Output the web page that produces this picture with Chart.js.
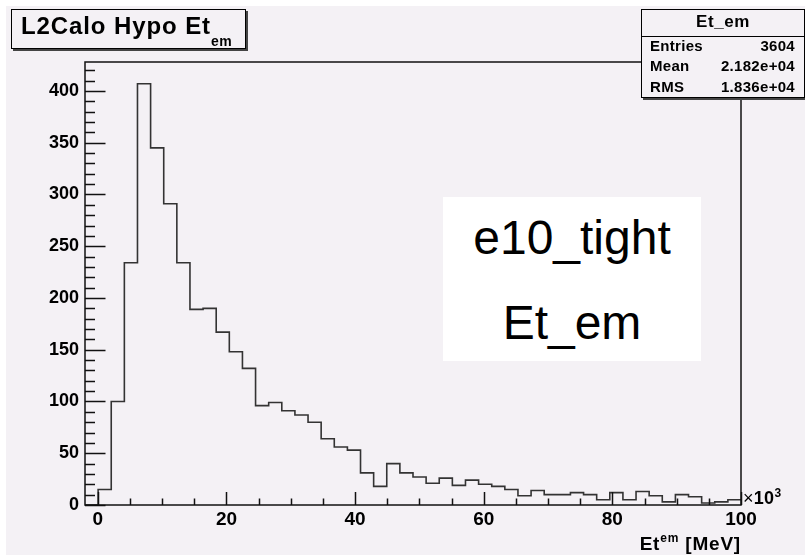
<!DOCTYPE html>
<html>
<head>
<meta charset="utf-8">
<title>L2Calo Hypo Et_em</title>
<script src="https://cdn.jsdelivr.net/npm/chart.js@4.4.1/dist/chart.umd.min.js"></script>
<style>
    body { margin: 0; width: 805px; height: 558px; overflow: hidden; background: #fff; position: relative; font-family: "Liberation Sans", Arial, sans-serif; }
    #pad { position: absolute; left: 6px; top: 6px; width: 799px; height: 549px; background: #f4f1f5; }
    #plot { position: absolute; left: 0; top: 0; }
    .abs { position: absolute; white-space: nowrap; color: #000; }
    #title { left: 11px; top: 9px; width: 233px; height: 38px; border: 1px solid #000; box-shadow: 2px 2px 0 #444; background: #f4f1f5; }
    #title span.main { position: absolute; left: 9px; top: 4px; font-size: 24px; line-height: 24px; font-weight: bold; letter-spacing: 0.9px; }
    #title span.sub { font-size: 14px; vertical-align: -11.7px; letter-spacing: 0.6px; }
    #stats { left: 641px; top: 9px; width: 162px; height: 87px; border: 1px solid #000; box-shadow: 2px 2px 0 #444; background: #f4f1f5; }
    #stats .head { position: absolute; left: 0; width: 162px; top: 2.6px; text-align: center; font-size: 17px; line-height: 17px; font-weight: bold; letter-spacing: 0.6px; }
    #stats .sep { position: absolute; left: 0; width: 162px; top: 26px; height: 1px; background: #000; }
    #stats .row { position: absolute; left: 8px; width: 145px; font-size: 15px; line-height: 15px; font-weight: bold; letter-spacing: 0.3px; }
    #stats .row .v { position: absolute; right: 0; }
    #note { left: 443px; top: 197px; width: 258px; height: 164px; background: #fff; }
    #note div { position: absolute; left: 0; width: 258px; text-align: center; font-size: 48px; line-height: 48px; }
    #expo { left: 743px; top: 489px; font-size: 18px; line-height: 18px; font-weight: bold; letter-spacing: 0.3px; }
    #expo .times { font-weight: normal; }
    #expo sup { font-size: 12px; vertical-align: 7px; line-height: 0; }
    #xtitle { right: 64px; top: 534px; font-size: 19px; line-height: 19px; font-weight: bold; letter-spacing: 0.8px; }
    #xtitle sup { font-size: 12px; vertical-align: 7.6px; line-height: 0; }
</style>
</head>
<body>
<div id="pad"></div>
<canvas id="plot" width="805" height="558"></canvas>

<div id="title" class="abs"><span class="main">L2Calo Hypo Et<span class="sub">em</span></span></div>
<div id="stats" class="abs"></div>
<div id="note" class="abs">
    <div style="top: 17.4px;">e10_tight</div>
    <div style="top: 102.4px;">Et_em</div>
</div>
<div id="expo" class="abs"><span class="times">&times;</span>10<sup>3</sup></div>
<div id="xtitle" class="abs">Et<sup>em</sup> [MeV]</div>

<script>
// Et_em histogram, 50 bins of 2.04 (x10^3 MeV) starting at -2
const binLow = -2;
const binWidth = 2.04;
const binCounts = [
    0, 15, 100, 234, 407, 345, 291, 234, 189, 190,
    167, 148, 132, 96, 99, 91, 87, 80, 64, 56,
    53, 31, 18, 40, 31, 27, 21, 26, 19, 24,
    20, 18, 15, 9, 14, 10, 10, 12, 10, 5,
    12, 5, 13, 9, 3, 10, 8, 2, 3, 5
];

const xTickValues = [0, 20, 40, 60, 80, 100];
const yTickValues = [0, 50, 100, 150, 200, 250, 300, 350, 400];
const xMinorStep = 5;
const yMinorStep = 10;
const xRange = [-2, 100];
const yRange = [0, 428];

const statsTitle = 'Et_em';
const statsLabels = ['Entries', 'Mean', 'RMS'];
const statsValues = ['3604', '2.182e+04', '1.836e+04'];

const FONT = '"Liberation Sans", Arial, sans-serif';

// stats box text
const statsBox = document.getElementById('stats');
statsBox.innerHTML = '<div class="head">' + statsTitle + '</div><div class="sep"></div>';
statsLabels.forEach(function(label, i) {
    const row = document.createElement('div');
    row.className = 'row';
    row.style.top = (27.6 + i * 20.7) + 'px';
    row.innerHTML = label + '<span class="v">' + statsValues[i] + '</span>';
    statsBox.appendChild(row);
});

// histogram outline: one point per bin low edge, plus the last upper edge
const histPoints = binCounts.map((c, i) => ({ x: binLow + i * binWidth, y: c }));
histPoints.push({ x: binLow + binCounts.length * binWidth, y: binCounts[binCounts.length - 1] });

// ROOT style frame with ticks pointing into the plot
const rootFrame = {
    id: 'rootFrame',
    afterDatasetsDraw(chart) {
        const { ctx, chartArea: a, scales: { x, y } } = chart;
        ctx.save();
        ctx.strokeStyle = '#111';
        ctx.lineWidth = 1.5;

        ctx.beginPath();
        for (let v = 0; v <= xRange[1] + 1e-9; v += xMinorStep) {
            const px = Math.round(x.getPixelForValue(v)) + 0.5;
            const len = (v % 20 === 0) ? 13 : 6.5;
            ctx.moveTo(px, a.bottom);
            ctx.lineTo(px, a.bottom - len);
        }
        for (let v = 0; v <= yRange[1]; v += yMinorStep) {
            const py = Math.round(y.getPixelForValue(v)) + 0.5;
            const len = (v % 50 === 0) ? 20.5 : 10;
            ctx.moveTo(a.left, py);
            ctx.lineTo(a.left + len, py);
        }
        ctx.stroke();

        ctx.strokeRect(a.left, a.top, a.right - a.left, a.bottom - a.top);
        ctx.restore();
    }
};

new Chart(document.getElementById('plot'), {
    type: 'line',
    data: {
        datasets: [{
            data: histPoints,
            stepped: 'before',
            borderColor: '#333',
            borderWidth: 1.6,
            pointRadius: 0,
            fill: false
        }]
    },
    options: {
        responsive: false,
        animation: false,
        layout: { padding: { left: 0, top: 62, right: 64, bottom: 0 } },
        plugins: {
            legend: { display: false },
            tooltip: { enabled: false }
        },
        scales: {
            x: {
                type: 'linear',
                min: xRange[0],
                max: xRange[1],
                grid: { display: false, drawTicks: false },
                border: { display: false },
                ticks: {
                    color: '#000',
                    padding: 3,
                    maxRotation: 0,
                    autoSkip: false,
                    font: { family: FONT, size: 19, weight: 'bold' }
                },
                afterBuildTicks: s => { s.ticks = xTickValues.map(v => ({ value: v })); },
                afterFit: s => { s.height = 53; }
            },
            y: {
                min: yRange[0],
                max: yRange[1],
                grid: { display: false, drawTicks: false },
                border: { display: false },
                ticks: {
                    color: '#000',
                    padding: 6,
                    autoSkip: false,
                    font: { family: FONT, size: 18, weight: 'bold' }
                },
                afterBuildTicks: s => { s.ticks = yTickValues.map(v => ({ value: v })); },
                afterFit: s => { s.width = 85; }
            }
        }
    },
    plugins: [rootFrame]
});
</script>
</body>
</html>
